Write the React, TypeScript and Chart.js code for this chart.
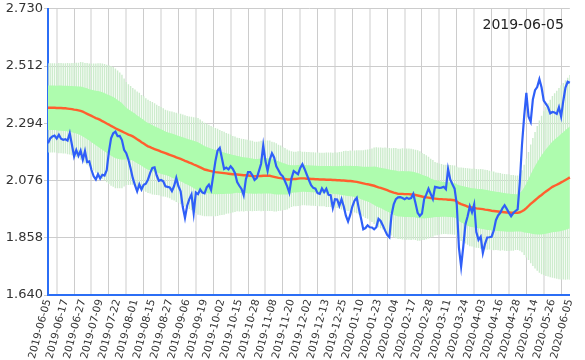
import React, { useEffect, useRef } from 'react';
import { Chart, registerables } from 'chart.js';

Chart.register(...registerables);

// tick labels shown on the x axis (one every STEP trading days)
const tickDates = [
  '2019-06-05', '2019-06-17', '2019-06-27', '2019-07-09', '2019-07-22', '2019-08-01',
  '2019-08-15', '2019-08-27', '2019-09-06', '2019-09-19', '2019-10-02', '2019-10-15',
  '2019-10-28', '2019-11-08', '2019-11-20', '2019-12-02', '2019-12-13', '2019-12-25',
  '2020-01-10', '2020-01-23', '2020-02-04', '2020-02-17', '2020-02-28', '2020-03-11',
  '2020-03-24', '2020-04-03', '2020-04-16', '2020-04-28', '2020-05-14', '2020-05-26',
  '2020-06-05',
];
const STEP = 8;

// price (blue line)
const price = [
  2.218, 2.236, 2.244, 2.247, 2.236, 2.250, 2.235, 2.231, 2.233, 2.228,
  2.256, 2.212, 2.168, 2.192, 2.170, 2.190, 2.155, 2.188, 2.146, 2.149,
  2.116, 2.092, 2.080, 2.100, 2.084, 2.098, 2.095, 2.115, 2.185, 2.237,
  2.256, 2.262, 2.245, 2.246, 2.230, 2.193, 2.180, 2.155, 2.122, 2.085,
  2.058, 2.035, 2.061, 2.042, 2.060, 2.064, 2.080, 2.105, 2.124, 2.126,
  2.095, 2.075, 2.078, 2.073, 2.054, 2.052, 2.050, 2.036, 2.055, 2.086,
  2.054, 2.035, 1.975, 1.934, 1.980, 2.005, 2.023, 1.952, 2.030, 2.024,
  2.042, 2.030, 2.027, 2.050, 2.060, 2.040, 2.095, 2.150, 2.190, 2.200,
  2.160, 2.120, 2.125, 2.118, 2.130, 2.120, 2.104, 2.070, 2.056, 2.044,
  2.020, 2.080, 2.108, 2.108, 2.096, 2.078, 2.085, 2.112, 2.140, 2.210,
  2.150, 2.113, 2.155, 2.180, 2.164, 2.130, 2.115, 2.100, 2.092, 2.073,
  2.054, 2.030, 2.085, 2.112, 2.106, 2.100, 2.124, 2.138, 2.120, 2.099,
  2.078, 2.058, 2.048, 2.045, 2.028, 2.025, 2.046, 2.032, 2.045, 2.022,
  2.020, 1.972, 2.005, 2.004, 1.980, 2.005, 1.978, 1.942, 1.920, 1.945,
  1.978, 2.000, 2.010, 1.968, 1.930, 1.890, 1.895, 1.905, 1.898, 1.897,
  1.890, 1.898, 1.930, 1.922, 1.905, 1.886, 1.869, 1.860, 1.945, 1.985,
  2.005, 2.012, 2.013, 2.009, 2.005, 2.010, 2.006, 2.009, 2.025, 1.990,
  1.953, 1.941, 1.950, 2.005, 2.023, 2.045, 2.025, 2.006, 2.052, 2.050,
  2.048, 2.049, 2.052, 2.043, 2.120, 2.080, 2.062, 2.045, 1.985, 1.820,
  1.748, 1.825, 1.910, 1.940, 1.978, 1.955, 1.985, 1.880, 1.850, 1.862,
  1.800, 1.835, 1.859, 1.860, 1.862, 1.885, 1.925, 1.943, 1.953, 1.970,
  1.982, 1.968, 1.953, 1.940, 1.952, 1.960, 1.966, 2.070, 2.212, 2.320,
  2.410, 2.320, 2.300, 2.385, 2.420, 2.432, 2.462, 2.430, 2.380, 2.368,
  2.355, 2.332, 2.337, 2.335, 2.330, 2.355, 2.320, 2.380, 2.430, 2.452,
  2.448,
];

// moving average (red line)
const ma = [
  2.353, 2.353, 2.353, 2.353, 2.352, 2.352, 2.352, 2.351, 2.351, 2.350,
  2.349, 2.348, 2.346, 2.345, 2.343, 2.341, 2.338, 2.334, 2.330, 2.326,
  2.322, 2.318, 2.314, 2.311, 2.307, 2.302, 2.298, 2.293, 2.289, 2.284,
  2.280, 2.275, 2.271, 2.267, 2.263, 2.259, 2.255, 2.251, 2.248, 2.244,
  2.239, 2.233, 2.228, 2.222, 2.217, 2.211, 2.206, 2.203, 2.199, 2.196,
  2.193, 2.190, 2.186, 2.183, 2.180, 2.177, 2.174, 2.171, 2.168, 2.164,
  2.161, 2.158, 2.155, 2.151, 2.148, 2.144, 2.141, 2.137, 2.134, 2.130,
  2.126, 2.122, 2.118, 2.116, 2.114, 2.112, 2.110, 2.108, 2.107, 2.106,
  2.105, 2.104, 2.103, 2.102, 2.101, 2.100, 2.100, 2.099, 2.098, 2.097,
  2.096, 2.096, 2.095, 2.094, 2.093, 2.092, 2.092, 2.093, 2.093, 2.094,
  2.094, 2.094, 2.094, 2.092, 2.090, 2.088, 2.086, 2.085, 2.083, 2.082,
  2.080, 2.080, 2.081, 2.082, 2.082, 2.083, 2.084, 2.084, 2.084, 2.083,
  2.083, 2.082, 2.082, 2.081, 2.081, 2.080, 2.080, 2.080, 2.079, 2.079,
  2.079, 2.078, 2.078, 2.077, 2.077, 2.076, 2.076, 2.075, 2.074, 2.074,
  2.073, 2.072, 2.071, 2.069, 2.067, 2.065, 2.063, 2.062, 2.060, 2.058,
  2.056, 2.053, 2.050, 2.048, 2.045, 2.042, 2.039, 2.036, 2.033, 2.030,
  2.028, 2.025, 2.025, 2.025, 2.024, 2.024, 2.024, 2.023, 2.023, 2.021,
  2.019, 2.017, 2.015, 2.013, 2.012, 2.011, 2.009, 2.008, 2.007, 2.006,
  2.005, 2.005, 2.004, 2.004, 2.003, 2.003, 2.002, 2.001, 1.996, 1.990,
  1.986, 1.983, 1.980, 1.977, 1.974, 1.973, 1.972, 1.970, 1.969, 1.968,
  1.967, 1.965, 1.964, 1.963, 1.961, 1.960, 1.959, 1.958, 1.957, 1.956,
  1.955, 1.954, 1.954, 1.953, 1.953, 1.953, 1.953, 1.955, 1.959, 1.964,
  1.971, 1.979, 1.987, 1.994, 2.001, 2.008, 2.015, 2.021, 2.028, 2.034,
  2.040, 2.046, 2.052, 2.056, 2.060, 2.064, 2.069, 2.073, 2.078, 2.083,
  2.088,
];

// standard deviation (band half-width, 1 sigma)
const sigma = [
  0.085, 0.085, 0.085, 0.085, 0.085, 0.086, 0.086, 0.086, 0.086, 0.087,
  0.087, 0.088, 0.089, 0.090, 0.091, 0.093, 0.094, 0.095, 0.097, 0.098,
  0.100, 0.102, 0.104, 0.106, 0.108, 0.110, 0.111, 0.112, 0.113, 0.114,
  0.114, 0.114, 0.112, 0.110, 0.108, 0.103, 0.098, 0.096, 0.094, 0.092,
  0.092, 0.091, 0.091, 0.090, 0.090, 0.089, 0.089, 0.088, 0.088, 0.087,
  0.086, 0.085, 0.085, 0.084, 0.083, 0.083, 0.083, 0.084, 0.084, 0.085,
  0.085, 0.086, 0.086, 0.087, 0.087, 0.088, 0.089, 0.090, 0.091, 0.092,
  0.091, 0.090, 0.089, 0.088, 0.087, 0.086, 0.085, 0.084, 0.083, 0.081,
  0.080, 0.079, 0.077, 0.076, 0.075, 0.073, 0.072, 0.070, 0.070, 0.069,
  0.069, 0.068, 0.068, 0.067, 0.067, 0.066, 0.066, 0.066, 0.067, 0.067,
  0.067, 0.067, 0.067, 0.066, 0.066, 0.065, 0.063, 0.062, 0.060, 0.059,
  0.057, 0.055, 0.053, 0.052, 0.052, 0.052, 0.052, 0.051, 0.051, 0.051,
  0.051, 0.051, 0.051, 0.051, 0.051, 0.051, 0.051, 0.051, 0.052, 0.052,
  0.052, 0.052, 0.053, 0.053, 0.054, 0.055, 0.056, 0.057, 0.057, 0.058,
  0.058, 0.059, 0.060, 0.061, 0.062, 0.063, 0.065, 0.066, 0.068, 0.070,
  0.073, 0.075, 0.076, 0.077, 0.078, 0.080, 0.081, 0.082, 0.083, 0.085,
  0.086, 0.086, 0.086, 0.087, 0.087, 0.087, 0.087, 0.087, 0.086, 0.086,
  0.086, 0.085, 0.083, 0.082, 0.080, 0.078, 0.075, 0.073, 0.070, 0.069,
  0.068, 0.067, 0.066, 0.066, 0.066, 0.066, 0.066, 0.066, 0.066, 0.068,
  0.070, 0.071, 0.072, 0.073, 0.074, 0.074, 0.075, 0.075, 0.075, 0.076,
  0.076, 0.076, 0.076, 0.075, 0.075, 0.075, 0.074, 0.074, 0.074, 0.073,
  0.073, 0.073, 0.073, 0.072, 0.072, 0.071, 0.071, 0.073, 0.078, 0.086,
  0.094, 0.103, 0.113, 0.122, 0.130, 0.138, 0.145, 0.151, 0.156, 0.161,
  0.165, 0.169, 0.173, 0.176, 0.179, 0.182, 0.185, 0.187, 0.190, 0.192,
  0.195,
];

const yTicks = [1.640, 1.858, 2.076, 2.294, 2.512, 2.730];
const titleText = '2019-06-05';

const FONT = '"DejaVu Sans", sans-serif';

export default function App() {
  const ref = useRef<HTMLCanvasElement>(null);

  useEffect(() => {
    document.body.style.margin = '0';
    Chart.defaults.font.family = FONT;
    const labels = price.map((_, i) => (i % STEP === 0 ? tickDates[i / STEP] : ''));
    const upper1 = ma.map((m, i) => m + sigma[i]);
    const lower1 = ma.map((m, i) => m - sigma[i]);
    const outer = ma.map((m, i) => [m - 2 * sigma[i], m + 2 * sigma[i]]);

    const titlePlugin = {
      id: 'cornerTitle',
      afterDraw(chart: any) {
        const { ctx, chartArea } = chart;
        ctx.save();
        ctx.font = '14px ' + FONT;
        ctx.fillStyle = '#222';
        ctx.textAlign = 'right';
        ctx.textBaseline = 'alphabetic';
        ctx.fillText(titleText, chartArea.right - 6, chartArea.top + 20);
        ctx.restore();
      },
    };

    const chart = new Chart(ref.current as HTMLCanvasElement, {
      type: 'bar',
      data: {
        labels,
        datasets: [
          {
            type: 'line',
            data: price,
            borderColor: '#2f5ff8',
            borderWidth: 2.2,
            pointRadius: 0,
            tension: 0,
            fill: false,
            order: 0,
          } as any,
          {
            type: 'line',
            data: ma,
            borderColor: '#ff5f2e',
            borderWidth: 2.4,
            pointRadius: 0,
            tension: 0,
            fill: false,
            order: 1,
          } as any,
          {
            type: 'line',
            data: upper1,
            borderColor: 'transparent',
            borderWidth: 0,
            pointRadius: 0,
            backgroundColor: '#aefcae',
            fill: 3,
            order: 2,
          } as any,
          {
            type: 'line',
            data: lower1,
            borderColor: 'transparent',
            borderWidth: 0,
            pointRadius: 0,
            fill: false,
            order: 3,
          } as any,
          {
            type: 'bar',
            data: outer,
            backgroundColor: '#cdeccd',
            borderWidth: 0,
            grouped: false,
            barPercentage: 0.65,
            categoryPercentage: 1,
            order: 4,
          } as any,
        ],
      },
      options: {
        animation: false,
        responsive: false,
        events: [],
        layout: { padding: { top: 6, right: 10, left: 0, bottom: 0 } },
        plugins: {
          legend: { display: false },
          tooltip: { enabled: false },
          title: { display: false },
        },
        scales: {
          x: {
            type: 'category',
            offset: false,
            grid: {
              color: (c: any) => (c.index % 2 === 1 ? '#e6e6e6' : '#cccccc'),
              lineWidth: (c: any) => (c.index % 2 === 1 ? 2 : 1),
              drawTicks: false,
            },
            border: { color: '#2b6ef5', width: 2 },
            ticks: {
              autoSkip: false,
              minRotation: 75,
              maxRotation: 75,
              padding: 3,
              color: '#333',
              font: { size: 10.5 },
            },
            afterBuildTicks: (s: any) => {
              s.ticks = s.ticks.filter((t: any) => t.value % STEP === 0);
            },
            afterFit: (s: any) => {
              s.height = 65;
            },
          },
          y: {
            min: 1.64,
            max: 2.73,
            afterBuildTicks: (s: any) => {
              s.ticks = yTicks.map((v) => ({ value: v }));
            },
            ticks: {
              callback: (v: any) => Number(v).toFixed(3),
              color: '#333',
              font: { size: 13 },
              padding: 1,
            },
            grid: { color: '#cccccc', tickLength: 4 },
            border: { color: '#2b6ef5', width: 2 },
            afterFit: (s: any) => {
              s.width = 48;
            },
          },
        },
      } as any,
      plugins: [titlePlugin],
    });
    return () => chart.destroy();
  }, []);

  return (
    <div style={{ width: 585, height: 360 }}>
      <canvas ref={ref} width={585} height={360} style={{ display: 'block' }} />
    </div>
  );
}
